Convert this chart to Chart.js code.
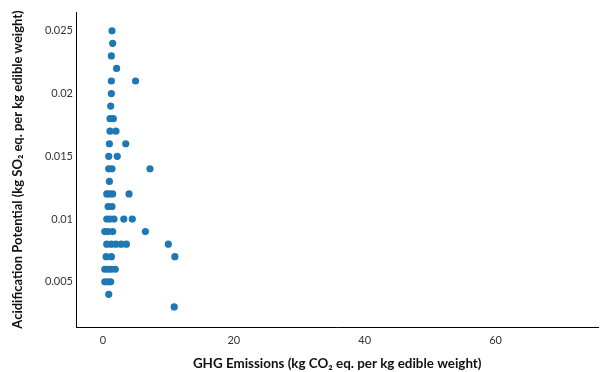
<!DOCTYPE html>
<html>
<head>
<meta charset="utf-8">
<script src="https://cdn.jsdelivr.net/npm/chart.js@4"></script>
<style>
  html, body { margin: 0; padding: 0; background: #fff; }
  #wrap { width: 602px; height: 372px; position: relative; }
</style>
</head>
<body>
<div id="wrap"><canvas id="c"></canvas></div>
<script>
// GHG emissions (kg CO2 eq. / kg edible weight) for each product
const ghgEmissions = [
  1.4, 1.5, 1.3, 2.1,
  1.3, 5.0,
  1.3, 1.2,
  1.1, 1.6,
  1.1, 2.0,
  1.0, 3.5,
  0.9, 2.2,
  0.9, 1.4, 7.2,
  1.0,
  0.6, 1.0, 1.5, 4.0,
  0.8, 1.4,
  0.6, 1.1, 1.7, 3.2, 4.5,
  0.3, 0.8, 1.5, 6.5,
  0.6, 1.3, 2.0, 2.8, 3.6, 10.0,
  0.5, 1.3, 11.0,
  0.3, 0.8, 1.3, 1.9,
  0.3, 0.8, 1.2,
  0.9,
  10.9
];
// Acidification potential (kg SO2 eq. / kg edible weight) for the same products
const acidification = [
  0.025, 0.024, 0.023, 0.022,
  0.021, 0.021,
  0.020, 0.019,
  0.018, 0.018,
  0.017, 0.017,
  0.016, 0.016,
  0.015, 0.015,
  0.014, 0.014, 0.014,
  0.013,
  0.012, 0.012, 0.012, 0.012,
  0.011, 0.011,
  0.010, 0.010, 0.010, 0.010, 0.010,
  0.009, 0.009, 0.009, 0.009,
  0.008, 0.008, 0.008, 0.008, 0.008, 0.008,
  0.007, 0.007, 0.007,
  0.006, 0.006, 0.006, 0.006,
  0.005, 0.005, 0.005,
  0.004,
  0.003
];
const xTicks = [0, 20, 40, 60];
const yTicks = [0.005, 0.01, 0.015, 0.02, 0.025];

const points = ghgEmissions.map((x, i) => ({ x: x, y: acidification[i] }));
const FONT = 'Lato, "Open Sans", sans-serif';

new Chart(document.getElementById('c'), {
  type: 'scatter',
  data: {
    datasets: [{
      data: points,
      backgroundColor: '#1f77b4',
      borderColor: '#1f77b4',
      borderWidth: 0,
      pointRadius: 3.6,
      pointHoverRadius: 3.6
    }]
  },
  options: {
    responsive: true,
    maintainAspectRatio: false,
    animation: false,
    layout: { padding: { left: 0, right: 2, top: 12, bottom: 0 } },
    plugins: { legend: { display: false }, tooltip: { enabled: false } },
    scales: {
      x: {
        type: 'linear',
        min: -4.1,
        max: 75.7,
        grid: { display: false, drawTicks: false },
        border: { display: true, color: '#000', width: 1 },
        afterBuildTicks: s => { s.ticks = xTicks.map(v => ({ value: v })); },
        afterFit: s => { s.height = 45; },
        ticks: {
          color: '#333',
          font: { family: FONT, size: 11 },
          padding: 7,
          maxRotation: 0,
          callback: v => String(v)
        },
        title: {
          display: true,
          text: 'GHG Emissions (kg CO\u2082 eq. per kg edible weight)',
          color: '#111',
          font: { family: FONT, size: 13.4, weight: 'bold' },
          padding: { top: 10, bottom: 0 }
        }
      },
      y: {
        type: 'linear',
        min: 0.0014,
        max: 0.0265,
        grid: { display: false, drawTicks: false },
        border: { display: true, color: '#000', width: 1 },
        afterBuildTicks: s => { s.ticks = yTicks.map(v => ({ value: v })); },
        afterFit: s => { s.width = 76; },
        ticks: {
          color: '#333',
          font: { family: FONT, size: 11 },
          padding: 3,
          callback: v => String(v)
        },
        title: {
          display: true,
          text: 'Acidification Potential (kg SO\u2082 eq. per kg edible weight)',
          color: '#111',
          font: { family: FONT, size: 13, weight: 'bold' },
          padding: { top: 10, bottom: 0 }
        }
      }
    }
  }
});
</script>
</body>
</html>
